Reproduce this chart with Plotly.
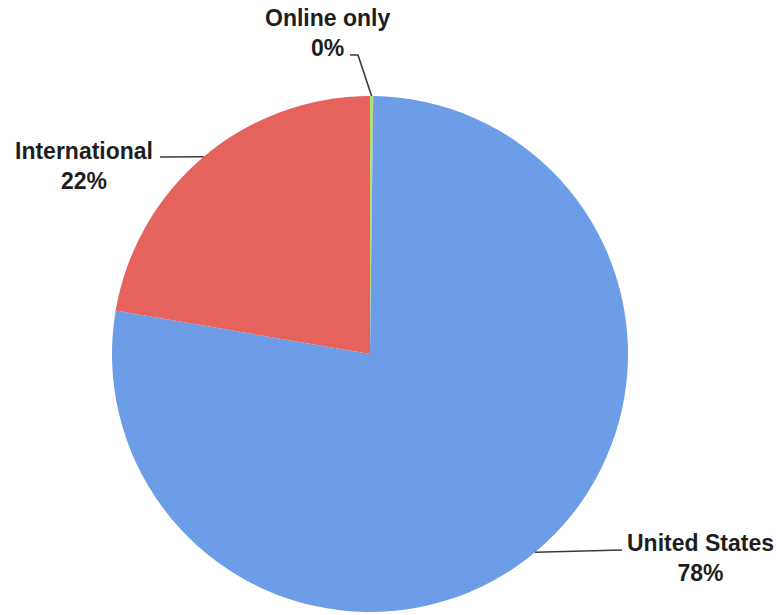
import math
import plotly.graph_objects as go

# Share of sales by channel (percent)
channels = ["Online only", "United States", "International"]
shares = [0.2, 77.5, 22.3]
colors = ["#B5DE78", "#6C9DE6", "#E5625D"]

# Label placement (canvas pixels) for each channel's text block and the
# elbow / end points of its leader line
label_xy = [(327, 33), (700, 558), (84, 166)]
elbow_xy = [(358, 55), (622, 550), (160, 157)]
line_end_xy = [(350, 55), (622, 550), (160, 157)]

W, H = 776, 615
CX, CY, R = 370, 354, 258   # pie centre and radius in pixels

fig = go.Figure()

fig.add_trace(go.Pie(
    labels=channels,
    values=shares,
    sort=False,
    direction="clockwise",
    rotation=0,
    marker=dict(colors=colors, line=dict(width=0)),
    textinfo="none",
    hoverinfo="label+percent",
    showlegend=False,
    domain=dict(x=[(CX - R) / W, (CX + R) / W],
                y=[(H - CY - R) / H, (H - CY + R) / H]),
))

total = sum(shares)
shapes = []
annotations = []
start = 0.0
for name, v, (lx, ly), (ex, ey), (tx, ty) in zip(channels, shares, label_xy,
                                                 elbow_xy, line_end_xy):
    sweep = v / total * 360.0
    mid = math.radians(start + sweep / 2)
    start += sweep
    # point on the rim at the slice's middle angle (clockwise from 12 o'clock)
    px = CX + R * math.sin(mid)
    py = CY - R * math.cos(mid)
    shapes.append(dict(
        type="path", xref="x", yref="y",
        path=f"M {px:.1f},{py:.1f} L {ex},{ey} L {tx},{ty}",
        line=dict(color="#3a3a3a", width=1.6),
    ))
    pct = round(v / total * 100)
    annotations.append(dict(
        x=lx, y=ly, xref="x", yref="y",
        text=f"<b>{name}<br>{pct}%</b>",
        showarrow=False, align="center",
        xanchor="center", yanchor="middle",
        font=dict(family="Liberation Sans, Arial, sans-serif", size=23,
                  color="#1e1e1e"),
    ))

fig.update_layout(
    width=W, height=H,
    margin=dict(l=0, r=0, t=0, b=0),
    paper_bgcolor="white", plot_bgcolor="white",
    xaxis=dict(range=[0, W], visible=False, fixedrange=True),
    yaxis=dict(range=[H, 0], visible=False, fixedrange=True),
    shapes=shapes,
    annotations=annotations,
)

fig.write_html("out.html")
